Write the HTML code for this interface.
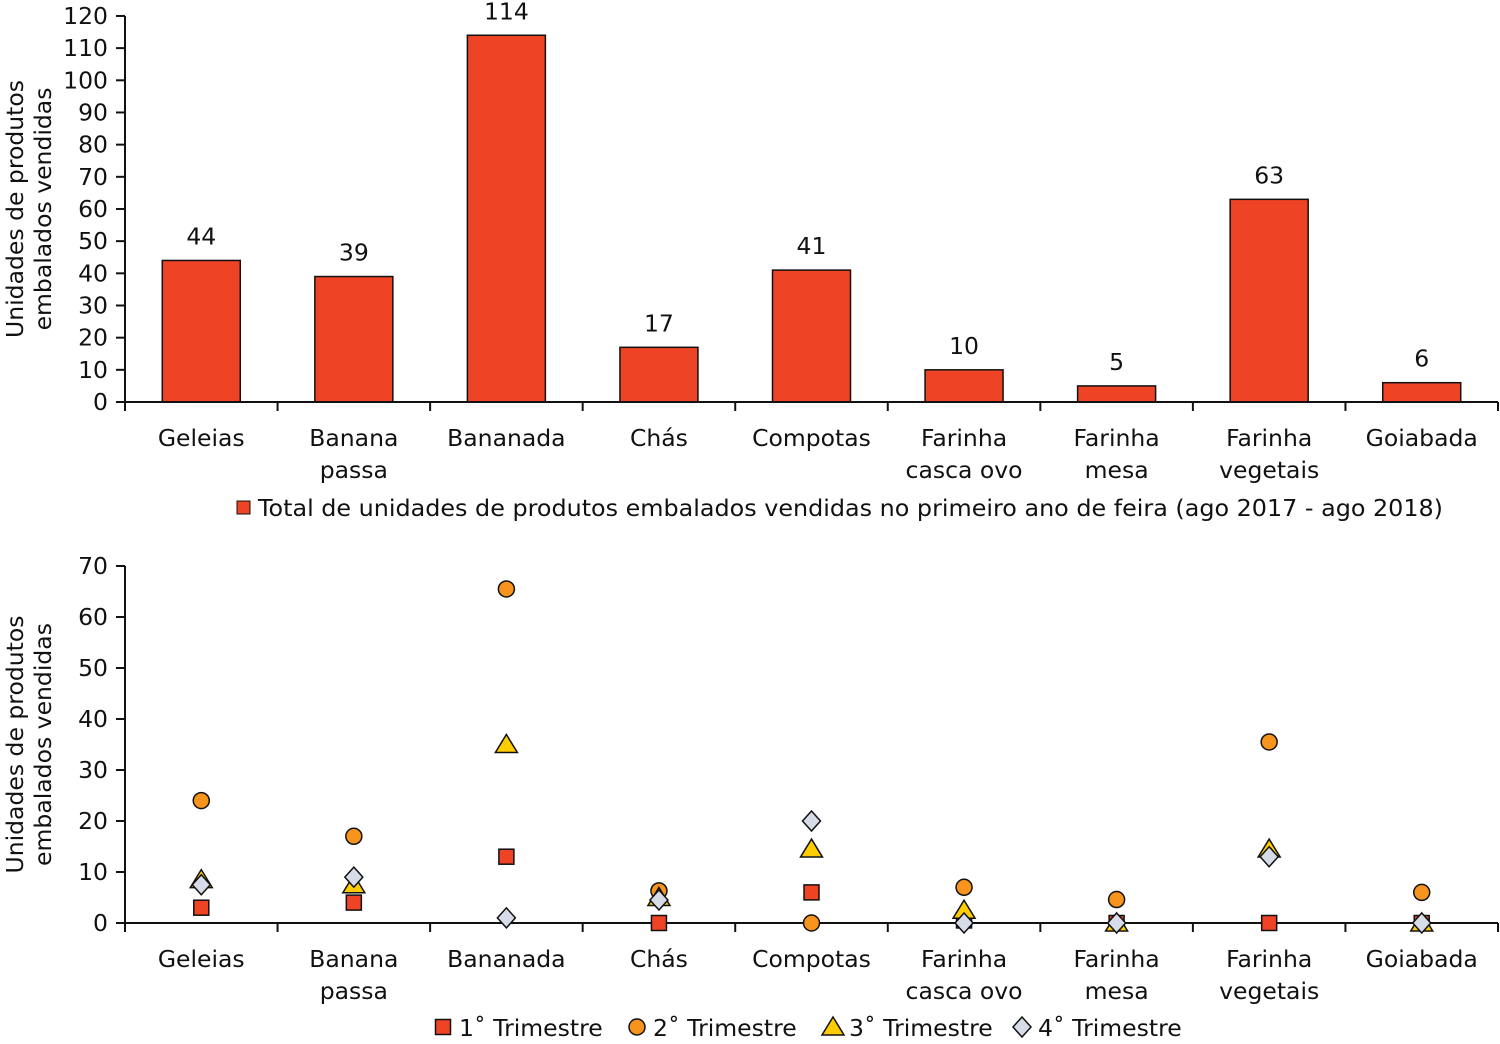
<!DOCTYPE html>
<html><head><meta charset="utf-8"><style>
body{margin:0;background:#fff}
svg text{font-family:"DejaVu Sans","Liberation Sans",sans-serif;fill:#111}
</style></head><body>
<svg id="c" width="1500" height="1039" xmlns="http://www.w3.org/2000/svg"></svg>
<script>
const categories=["Geleias","Banana|passa","Bananada","Chás","Compotas","Farinha|casca ovo","Farinha|mesa","Farinha|vegetais","Goiabada"];
const totals=[44,39,114,17,41,10,5,63,6];
const q1=[3,4,13,0,6,0.5,0,0,0];
const q2=[24,17,65.5,6.3,0,7,4.6,35.5,6];
const q3=[8.5,7.5,35,5,14.5,2.5,0,14.5,0];
const q4=[7.5,9,1,4.5,20,0,0,13,0];
const topTicks=[0,10,20,30,40,50,60,70,80,90,100,110,120];
const botTicks=[0,10,20,30,40,50,60,70];
const NS="http://www.w3.org/2000/svg";
const FS=23.5;
const svg=document.getElementById('c');
function el(t,a,p){const e=document.createElementNS(NS,t);for(const k in a)e.setAttribute(k,a[k]);(p||svg).appendChild(e);return e;}
const X0=125,X1=1498,n=categories.length,bw=(X1-X0)/n;
const xc=i=>X0+bw*(i+0.5);
const yTop=v=>402-v*3.217;
const yBot=v=>923-v*5.1;
function axes(y0,ymap,ticks,name){
  const g=el('g',{});
  
  
  el('line',{x1:X0,y1:ymap(ticks[ticks.length-1]),x2:X0,y2:y0,stroke:'#111','stroke-width':2},g);
  el('line',{x1:X0,y1:y0,x2:X1,y2:y0,stroke:'#111','stroke-width':2},g);
  ticks.forEach(t=>{
    el('line',{x1:116,y1:ymap(t),x2:X0,y2:ymap(t),stroke:'#111','stroke-width':2},g);
    const tx=el('text',{x:108,y:ymap(t)+8,'text-anchor':'end','font-size':FS},g);tx.textContent=t;
    
    
  });
  for(let i=0;i<=n;i++)el('line',{x1:X0+bw*i,y1:y0,x2:X0+bw*i,y2:y0+9,stroke:'#111','stroke-width':2},g);
  categories.forEach((c,i)=>{
    c.split('|').forEach((s,j)=>{
      const tx=el('text',{x:xc(i),y:y0+44+j*32,'text-anchor':'middle','font-size':FS},g);tx.textContent=s;
      
      
    });
  });
  const yt=el('text',{transform:`translate(23,${(ymap(ticks[ticks.length-1])+y0)/2}) rotate(-90)`,'text-anchor':'middle','font-size':FS},g);
  
  
  el('tspan',{x:0,dy:0},yt).textContent='Unidades de produtos';
  el('tspan',{x:0,dy:28},yt).textContent='embalados vendidas';
}
totals.forEach((v,i)=>{
  const r=el('rect',{x:xc(i)-39,y:yTop(v),width:78,height:402-yTop(v),fill:'#ee4325',stroke:'#111','stroke-width':1.5});
  
  
  const t=el('text',{x:xc(i),y:yTop(v)-16,'text-anchor':'middle','font-size':FS});t.textContent=v;
  
  
});
axes(402,yTop,topTicks,'top');
const lg=el('g',{});


el('rect',{x:237,y:501,width:13,height:13,fill:'#ee4325',stroke:'#111','stroke-width':1},lg);
el('text',{x:258,y:516,'font-size':FS,textLength:1185,lengthAdjust:'spacingAndGlyphs'},lg).textContent='Total de unidades de produtos embalados vendidas no primeiro ano de feira (ago 2017 - ago 2018)';
axes(923,yBot,botTicks,'bottom');
function marker(type,x,y,g){
  if(type==0)return el('rect',{x:x-7.5,y:y-7.5,width:15,height:15,fill:'#ee4325',stroke:'#111','stroke-width':1.5},g);
  if(type==1)return el('circle',{cx:x,cy:y,r:8,fill:'#f7941d',stroke:'#111','stroke-width':1.5},g);
  if(type==2)return el('polygon',{points:`${x},${y-10} ${x+11},${y+8} ${x-11},${y+8}`,fill:'#ffcc00',stroke:'#111','stroke-width':1.5},g);
  return el('polygon',{points:`${x},${y-10} ${x+9},${y} ${x},${y+10} ${x-9},${y}`,fill:'#d7dde8',stroke:'#111','stroke-width':1.5},g);
}
[q1,q2,q3,q4].forEach((s,k)=>{
  s.forEach((v,i)=>{
    const m=marker(k,xc(i),yBot(v));
    
    
  });
});
const names=['1˚ Trimestre','2˚ Trimestre','3˚ Trimestre','4˚ Trimestre'];
const lx=[443,637,833,1022];
names.forEach((nm,k)=>{
  const g=el('g',{});
  
  
  marker(k,lx[k],1027,g);
  el('text',{x:lx[k]+16,y:1036,'font-size':FS},g).textContent=nm;
});
</script>
</body></html>
